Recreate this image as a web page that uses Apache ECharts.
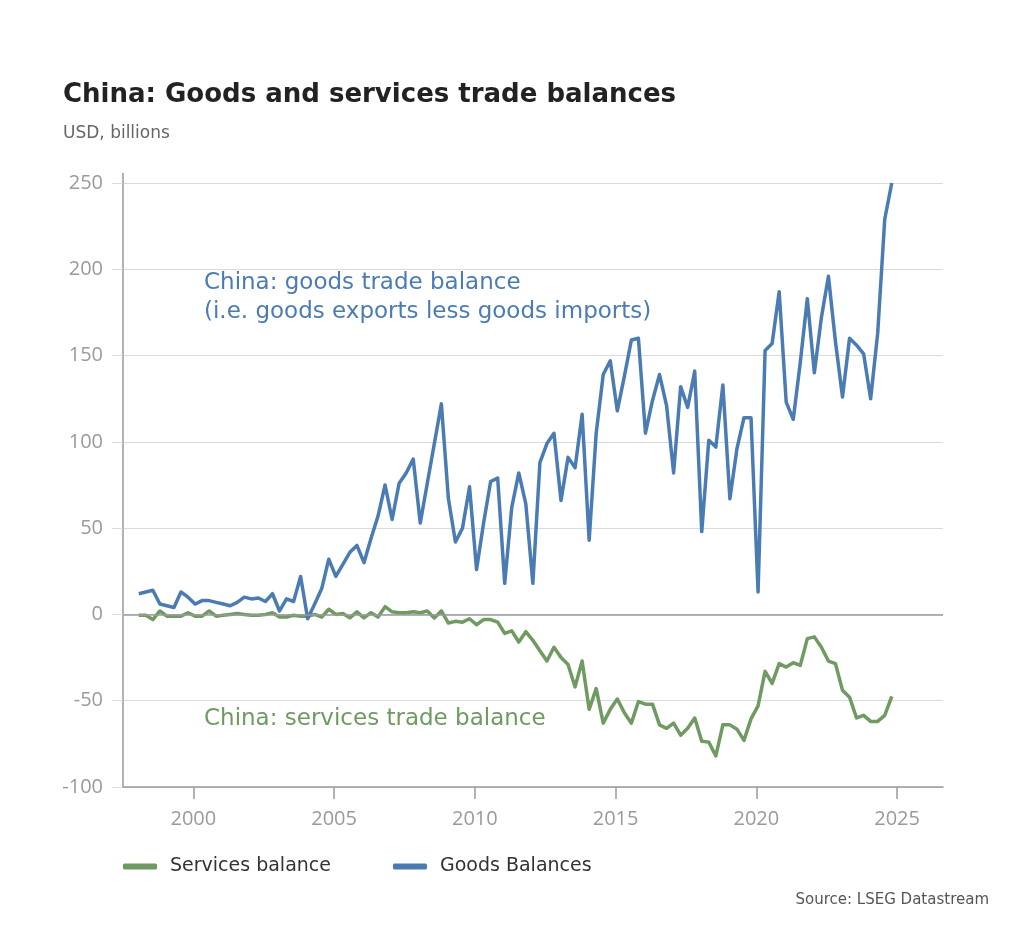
<!DOCTYPE html>
<html>
<head>
<meta charset="utf-8">
<script src="https://cdn.jsdelivr.net/npm/echarts@6/dist/echarts.min.js"></script>
<style>
html,body{margin:0;padding:0;background:#fff;}
#chart{width:1024px;height:925px;}
</style>
</head>
<body>
<div id="chart"></div>
<script>
// Quarterly data, 1998 Q1 .. 2024 Q4
var startYear = 1998;
var goodsBalance = [
  12, 13, 14, 6,
  5, 4, 13, 10,
  6, 8, 8, 7,
  6, 5, 7, 10,
  9, 9.5, 7.5, 12,
  2, 9, 7.5, 22,
  -2.5, 6, 15, 32,
  22, 29, 36, 40,
  30, 44, 57, 75,
  55, 76, 82, 90,
  53, 76, 99, 122,
  67, 42, 50, 74,
  26, 53, 77, 79,
  18, 62, 82, 64,
  18, 88, 99, 105,
  66, 91, 85, 116,
  43, 105, 139, 147,
  118, 138, 159, 160,
  105, 124, 139, 121,
  82, 132, 120, 141,
  48, 101, 97, 133,
  67, 96, 114, 114,
  13, 153, 157, 187,
  123, 113, 146, 183,
  140, 172, 196, 158,
  126, 160, 156, 151,
  125, 163, 229, 250
];
var servicesBalance = [
  -0.5, -0.5, -3, 2,
  -1, -1, -1, 1,
  -1, -1, 2, -1,
  -0.5, 0, 0.5, 0,
  -0.5, -0.5, 0, 1,
  -1.5, -1.5, -0.5, -1,
  -1, 0, -1.5, 3,
  0, 0.5, -2, 1.5,
  -2, 1, -1.5, 4.5,
  1.5, 1, 1, 1.5,
  1, 2, -2, 2,
  -5, -4, -4.5, -2.5,
  -6, -3, -3, -4.5,
  -11, -9.5, -16, -10,
  -15, -21, -27, -19,
  -25, -29, -42, -27,
  -55, -43, -63, -55,
  -49, -57, -63, -50.5,
  -52, -52, -64, -66,
  -63, -70, -66, -60,
  -73.5, -74, -82, -64,
  -64, -66.5, -73, -60.5,
  -53, -33, -40, -28.5,
  -30.5, -28, -29.5, -14,
  -13, -19, -27, -28.5,
  -44, -48, -60, -58.5,
  -62, -62, -58.5, -47.5
];
var xTickYears = [2000, 2005, 2010, 2015, 2020, 2025];
var yTicks = [-100, -50, 0, 50, 100, 150, 200, 250];

function quarterPos(i){ return startYear + i * 0.25 + 0.06; }
function pairs(arr){ return arr.map(function(v,i){ return [quarterPos(i), v]; }); }

var blue = '#4a7cb3';
var green = '#6f9a62';
var fontMain = '"DejaVu Sans", "Noto Sans", sans-serif';
var fontAxis = '"Open Sans", "Noto Sans", sans-serif';

var chart = echarts.init(document.getElementById('chart'), null, {renderer:'canvas'});
chart.setOption({
  animation: false,
  backgroundColor: '#fff',
  title: [
    {text: 'China: Goods and services trade balances', left: 58, top: 77,
     textStyle: {fontFamily: fontMain, fontWeight: 'bold', fontSize: 26, color: '#222'}},
    {text: 'USD, billions', left: 58, top: 120,
     textStyle: {fontFamily: fontMain, fontWeight: 'normal', fontSize: 17, color: '#666'}},
    {text: 'Source: LSEG Datastream', right: 30, top: 888,
     textStyle: {fontFamily: fontMain, fontWeight: 'normal', fontSize: 15, color: '#555'}}
  ],
  legend: {
    left: 118, top: 852,
    itemWidth: 34, itemHeight: 6, itemGap: 62,
    icon: 'roundRect',
    textStyle: {fontFamily: fontMain, fontSize: 19, color: '#333', padding: [0,0,0,8]},
    data: ['Services balance', 'Goods Balances']
  },
  grid: {left: 123, right: 81, top: 183, bottom: 138, containLabel: false},
  xAxis: {
    type: 'value', min: 1997.5, max: 2026.63,
    axisLine: {show: true, onZero: false, lineStyle: {color: '#9a9a9a', width: 1.5}},
    axisTick: {show: true, length: 12, customValues: xTickYears, lineStyle: {color: '#9a9a9a', width: 1.5}},
    axisLabel: {customValues: xTickYears, margin: 22, fontFamily: fontAxis, fontSize: 20, color: '#9a9a9a',
      formatter: function(v){ return String(Math.round(v)); }},
    splitLine: {show: false}
  },
  yAxis: {
    type: 'value', min: -100, max: 250, interval: 50,
    axisLine: {show: true, lineStyle: {color: '#9a9a9a', width: 1.5}},
    axisTick: {show: true, length: 11, lineStyle: {color: '#d8dbe0', width: 1}},
    axisLabel: {margin: 20, fontFamily: fontAxis, fontSize: 20, color: '#9a9a9a'},
    splitLine: {show: true, lineStyle: {color: '#d8dbe0', width: 1}}
  },
  graphic: [
    {type: 'line', shape: {x1: 123, y1: 173, x2: 123, y2: 184}, style: {stroke: '#9a9a9a', lineWidth: 1.5}},
    {type: 'text', left: 204, top: 272, style: {text: 'China: goods trade balance', fill: blue, font: '23px ' + fontMain}},
    {type: 'text', left: 204, top: 301, style: {text: '(i.e. goods exports less goods imports)', fill: blue, font: '23px ' + fontMain}},
    {type: 'text', left: 204, top: 708, style: {text: 'China: services trade balance', fill: green, font: '23px ' + fontMain}}
  ],
  series: [
    {
      name: 'Services balance', type: 'line', data: pairs(servicesBalance),
      showSymbol: false, z: 3,
      lineStyle: {color: green, width: 3.5, join: 'round'}, itemStyle: {color: green},
      markLine: {silent: true, symbol: 'none', label: {show: false},
        lineStyle: {color: '#9a9a9a', type: 'solid', width: 1.5},
        data: [{yAxis: 0}]}
    },
    {
      name: 'Goods Balances', type: 'line', data: pairs(goodsBalance),
      showSymbol: false, z: 4,
      lineStyle: {color: blue, width: 3.5, join: 'round'}, itemStyle: {color: blue}
    }
  ]
});
</script>
</body>
</html>
